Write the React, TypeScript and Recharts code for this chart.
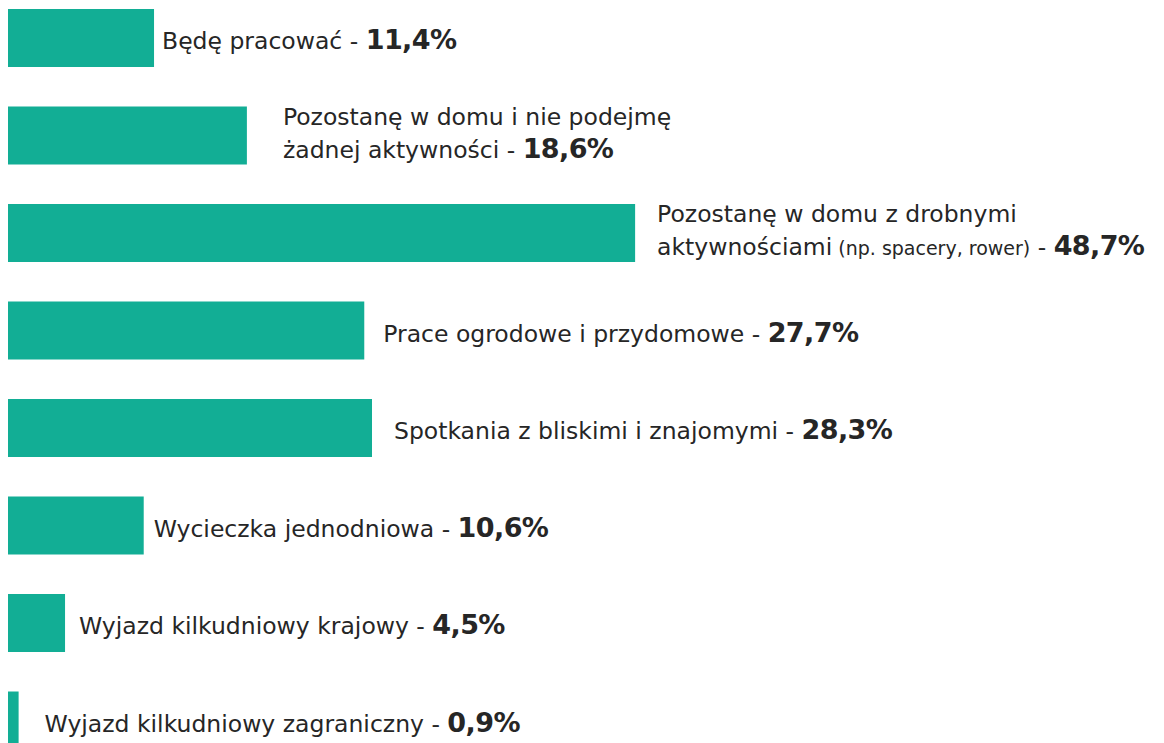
import React from "react";
import { BarChart, Bar, XAxis, YAxis, LabelList } from "recharts";

const categories = [
  ["Będę pracować"],
  ["Pozostanę w domu i nie podejmę", "żadnej aktywności"],
  ["Pozostanę w domu z drobnymi", "aktywnościami"],
  ["Prace ogrodowe i przydomowe"],
  ["Spotkania z bliskimi i znajomymi"],
  ["Wycieczka jednodniowa"],
  ["Wyjazd kilkudniowy krajowy"],
  ["Wyjazd kilkudniowy zagraniczny"],
];
const notes = ["", "", "(np. spacery, rower)", "", "", "", "", ""];
const values = [11.4, 18.6, 48.7, 27.7, 28.3, 10.6, 4.5, 0.9];

// distance from bar end to text start, per row
const LABEL_GAP = [8, 36, 22, 19, 22, 10, 14, 26];

const BAR_COLOR = "#12ae95";
const TEXT_COLOR = "#262626";
const FONT = "'DejaVu Sans', sans-serif";

const data = categories.map((lines, i) => ({
  name: lines.join(" "),
  lines,
  note: notes[i],
  value: values[i],
}));

const fmt = (v: number) => v.toFixed(1).replace(".", ",") + "%";

function RowLabel(props: any) {
  const { x, y, width, height, index } = props;
  const row = data[index];
  if (!row) return null;
  const cx = x + width + LABEL_GAP[index];
  const cy = y + height / 2;
  const n = row.lines.length;
  const first = n === 1 ? cy + 11 : cy - 11;
  return (
    <g>
      {row.lines.map((line: string, li: number) => (
        <text
          key={li}
          x={cx}
          y={first + li * 33}
          fill={TEXT_COLOR}
          fontFamily={FONT}
          fontSize={23.5}
        >
          {line}
          {li === n - 1 && row.note ? (
            <tspan fontSize={19}>{" " + row.note}</tspan>
          ) : null}
          {li === n - 1 ? " - " : null}
          {li === n - 1 ? (
            <tspan fontSize={27} fontWeight={700} letterSpacing={-0.6}>
              {fmt(row.value)}
            </tspan>
          ) : null}
        </text>
      ))}
    </g>
  );
}

export default function App() {
  return (
    <div style={{ height: 735, width: 1156, overflow: "hidden" }}>
      <div style={{ position: "relative", top: -19, left: -1 }}>
        <BarChart
          width={1157}
          height={780}
          data={data}
          layout="vertical"
          margin={{ top: 0, right: 22, bottom: 0, left: 0 }}
        >
          <XAxis type="number" domain={[0, 88]} hide />
          <YAxis type="category" dataKey="name" hide />
          <Bar dataKey="value" fill={BAR_COLOR} barSize={58} isAnimationActive={false}>
            <LabelList dataKey="value" content={<RowLabel />} />
          </Bar>
        </BarChart>
      </div>
    </div>
  );
}
